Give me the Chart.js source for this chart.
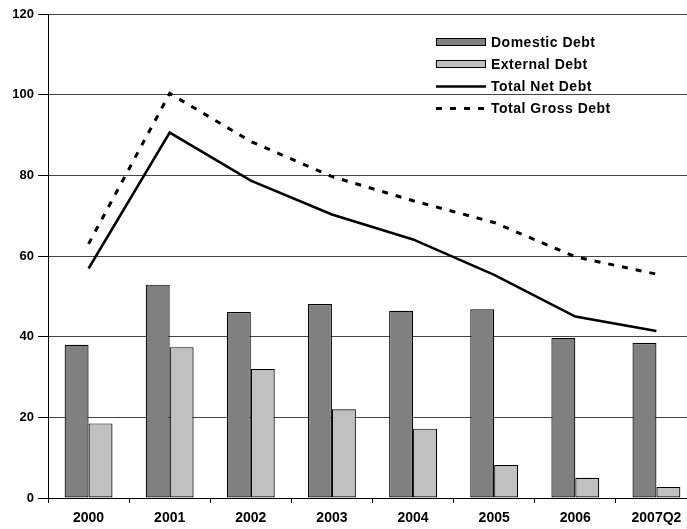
<!DOCTYPE html>
<html>
<head>
<meta charset="utf-8">
<script src="https://cdn.jsdelivr.net/npm/chart.js@4/dist/chart.umd.min.js"></script>
<style>
  html, body { margin: 0; padding: 0; background: #fff; overflow: hidden; }
  #wrap { width: 697px; height: 529px; }
</style>
</head>
<body>
<div id="wrap"><canvas id="debt-chart" width="697" height="529"></canvas></div>
<script>
const categories = ['2000', '2001', '2002', '2003', '2004', '2005', '2006', '2007Q2'];
const domesticDebt = [38.0, 52.9, 46.1, 48.1, 46.4, 46.8, 39.7, 38.4];
const externalDebt = [18.5, 37.4, 32.0, 22.0, 17.2, 8.2, 5.0, 2.7];
const totalNetDebt = [56.9, 90.6, 78.7, 70.3, 64.1, 55.3, 45.0, 41.4];
const totalGrossDebt = [63.0, 100.3, 88.4, 79.7, 73.7, 68.3, 59.8, 55.5];
const yTicks = [0, 20, 40, 60, 80, 100, 120];

const FONT = '"Liberation Sans", Arial, sans-serif';
const GROSS_DASH = [6, 8];

// legend box sitting inside the plot, top right
const legendBox = {
  id: 'legendBox',
  afterDraw(chart) {
    const ctx = chart.ctx;
    const x0 = 436, x1 = 486, top = 42, step = 22;
    ctx.save();
    chart.data.datasets.forEach((ds, i) => {
      const y = top + i * step;
      if (ds.type === 'line') {
        ctx.beginPath();
        ctx.setLineDash(ds.borderDash || []);
        ctx.lineWidth = ds.borderWidth;
        ctx.strokeStyle = ds.borderColor;
        ctx.moveTo(x0, y + 0.5);
        ctx.lineTo(x1, y + 0.5);
        ctx.stroke();
        ctx.setLineDash([]);
      } else {
        ctx.fillStyle = ds.backgroundColor;
        ctx.fillRect(x0, y - 3.5, x1 - x0, 7);
        ctx.lineWidth = 1;
        ctx.strokeStyle = '#000';
        ctx.strokeRect(x0 + 0.5, y - 3.5, x1 - x0 - 1, 7);
      }
      ctx.fillStyle = '#000';
      ctx.font = 'bold 14px ' + FONT;
      ctx.letterSpacing = '0.5px';
      ctx.textBaseline = 'middle';
      ctx.textAlign = 'left';
      ctx.fillText(ds.label, x1 + 5, y + 1);
    });
    ctx.restore();
  }
};

new Chart(document.getElementById('debt-chart'), {
  type: 'bar',
  data: {
    labels: categories,
    datasets: [
      {
        label: 'Domestic Debt',
        data: domesticDebt,
        backgroundColor: '#808080',
        borderColor: '#000',
        borderWidth: 1.2,
        borderSkipped: false,
        categoryPercentage: 0.59,
        barPercentage: 1,
        order: 2,
      },
      {
        label: 'External Debt',
        data: externalDebt,
        backgroundColor: '#c0c0c0',
        borderColor: '#000',
        borderWidth: 1.2,
        borderSkipped: false,
        categoryPercentage: 0.59,
        barPercentage: 1,
        order: 2,
      },
      {
        type: 'line',
        label: 'Total Net Debt',
        data: totalNetDebt,
        borderColor: '#000',
        borderWidth: 2.5,
        pointRadius: 0,
        tension: 0,
        fill: false,
        order: 1,
      },
      {
        type: 'line',
        label: 'Total Gross Debt',
        data: totalGrossDebt,
        borderColor: '#000',
        borderWidth: 3,
        borderDash: GROSS_DASH,
        pointRadius: 0,
        tension: 0,
        fill: false,
        order: 0,
      },
    ]
  },
  options: {
    responsive: false,
    animation: false,
    devicePixelRatio: 1,
    layout: { padding: { top: 14, right: 0, bottom: 0, left: 0 } },
    plugins: {
      legend: { display: false },
      tooltip: { enabled: false },
    },
    scales: {
      x: {
        offset: true,
        border: { display: true, color: '#000', width: 1 },
        grid: {
          offset: true,
          drawOnChartArea: false,
          drawTicks: true,
          tickLength: 5,
          tickColor: '#000',
        },
        ticks: {
          color: '#000',
          font: { family: FONT, size: 14, weight: 'bold' },
          padding: 7,
          maxRotation: 0,
          autoSkip: false,
        },
        afterFit(scale) { scale.height = 31; },
      },
      y: {
        min: 0,
        max: 120,
        border: { display: true, color: '#000', width: 1 },
        grid: {
          color: '#444',
          lineWidth: 1,
          drawTicks: true,
          tickLength: 10,
          tickColor: '#000',
        },
        afterBuildTicks(scale) {
          scale.ticks = yTicks.map(v => ({ value: v }));
        },
        ticks: {
          color: '#000',
          font: { family: FONT, size: 13, weight: 'bold' },
          padding: 4,
        },
        afterFit(scale) { scale.width = 48; },
      }
    }
  },
  plugins: [legendBox]
});
</script>
</body>
</html>
